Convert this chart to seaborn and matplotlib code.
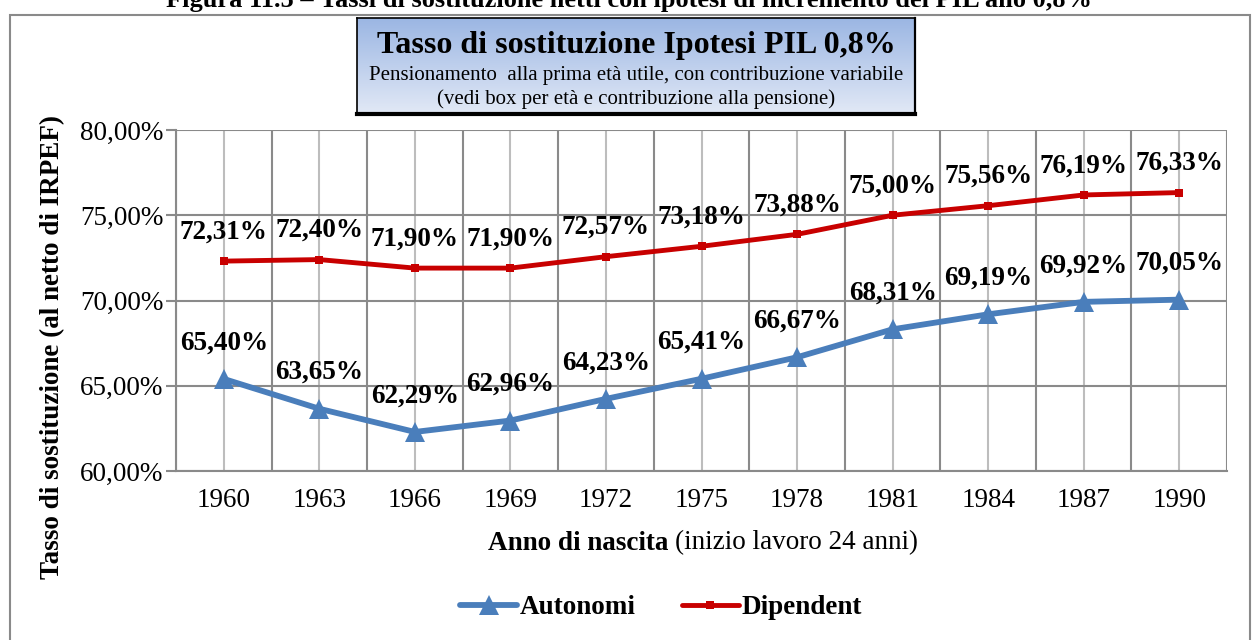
import numpy as np
import pandas as pd
import seaborn as sns
import matplotlib.pyplot as plt
from matplotlib.patches import Rectangle
from matplotlib.ticker import FuncFormatter, FixedLocator
from matplotlib.colors import LinearSegmentedColormap

# data
anni = [1960, 1963, 1966, 1969, 1972, 1975, 1978, 1981, 1984, 1987, 1990]
autonomi = [65.40, 63.65, 62.29, 62.96, 64.23, 65.41, 66.67, 68.31, 69.19, 69.92, 70.05]
dipendenti = [72.31, 72.40, 71.90, 71.90, 72.57, 73.18, 73.88, 75.00, 75.56, 76.19, 76.33]
y_ticks = [60, 65, 70, 75, 80]

sns.set_theme(style="white")
plt.rcParams['font.family'] = ['Liberation Serif', 'DejaVu Serif']
plt.rcParams.update({"text.color": "black", "axes.labelcolor": "black",
                     "xtick.color": "black", "ytick.color": "black"})

df = pd.DataFrame({"Anno": anni + anni,
                   "Tasso": autonomi + dipendenti,
                   "Serie": ["Autonomi"] * len(anni) + ["Dipendent"] * len(anni)})

fig = plt.figure(figsize=(12.58, 6.4), dpi=100)
ax = fig.add_axes([176 / 1258, 1 - 471 / 640, (1227 - 176) / 1258, (471 - 130) / 640])

blu, rosso = "#4a7ebb", "#c80000"
sns.lineplot(data=df[df.Serie == "Autonomi"], x="Anno", y="Tasso", ax=ax, color=blu,
             lw=4.2, marker="^", markersize=15, markeredgewidth=0, label="Autonomi", zorder=4)
sns.lineplot(data=df[df.Serie == "Dipendent"], x="Anno", y="Tasso", ax=ax, color=rosso,
             lw=3.5, marker="s", markersize=6, markeredgewidth=0, label="Dipendent", zorder=4)

ax.set_xlim(1958.5, 1991.5)
ax.set_ylim(60, 80)
ax.set_xticks(anni)
ax.set_xticklabels([str(a) for a in anni])
ax.xaxis.set_minor_locator(FixedLocator([a - 1.5 for a in anni] + [1991.5]))
ax.set_yticks(y_ticks)
ax.yaxis.set_major_formatter(FuncFormatter(lambda v, p: f"{v:.2f}".replace(".", ",") + "%"))

ax.grid(True, which="major", axis="x", color="#bdbdbd", lw=1.5)
ax.grid(True, which="minor", axis="x", color="#8a8a8a", lw=1.5)
ax.grid(True, which="major", axis="y", color="#8a8a8a", lw=1.5)
ax.set_axisbelow(True)
for s in ["top", "right"]:
    ax.spines[s].set_visible(False)
for s in ["left", "bottom"]:
    ax.spines[s].set_color("#8a8a8a")
    ax.spines[s].set_linewidth(1.5)

ax.tick_params(axis="x", which="major", length=0, labelsize=19.5, pad=12)
ax.tick_params(axis="x", which="minor", length=7, width=1.5, color="#8a8a8a", direction="out")
ax.tick_params(axis="y", which="major", length=7, width=1.5, color="#8a8a8a", labelsize=19.5,
               pad=2, left=True)

ax.set_ylabel("")
ax.set_xlabel("")
fig.text(53 / 1258, 1 - 347 / 640, "Tasso di sostituzione (al netto di IRPEF)", fontsize=19.5,
         fontweight="bold", rotation=90, ha="center", va="center")

# data labels
for a, v in zip(anni, autonomi):
    ax.annotate(f"{v:.2f}".replace(".", ",") + "%", (a, v), xytext=(0, 26), textcoords="offset points",
                ha="center", va="center", fontsize=19.5, fontweight="bold", zorder=5)
for a, v in zip(anni, dipendenti):
    ax.annotate(f"{v:.2f}".replace(".", ",") + "%", (a, v), xytext=(0, 21), textcoords="offset points",
                ha="center", va="center", fontsize=19.5, fontweight="bold", zorder=5)

# x axis label, bold + normal part
fig.text(668 / 1258, 1 - 543 / 640, "Anno di nascita", fontsize=19.5, fontweight="bold",
         ha="right", va="center")
fig.text(675 / 1258, 1 - 543 / 640, "(inizio lavoro 24 anni)", fontsize=19.5, ha="left", va="center")

leg = ax.legend(loc="center", bbox_to_anchor=((661 - 176) / 1051, (471 - 608) / (471 - 130)), ncol=2,
                frameon=False, prop={"size": 19.5, "weight": "bold"}, handlelength=2.1,
                columnspacing=1.7, handletextpad=0.1)

# outer chart frame
fig.patches.append(Rectangle((10 / 1258, -0.05), 1240 / 1258, 1 - 15 / 640 + 0.05,
                             transform=fig.transFigure, fill=False, ec="#8a8a8a", lw=1.5))

# caption cut at the top edge
fig.text(0.5, 1.0, "Figura 11.5 – Tassi di sostituzione netti con ipotesi di incremento del PIL allo 0,8%",
         fontsize=19, fontweight="bold", ha="center", va="center")

# title box with gradient
bx = fig.add_axes([357 / 1258, 1 - 114 / 640, (915 - 357) / 1258, (114 - 18) / 640])
grad = np.linspace(0, 1, 256).reshape(-1, 1)
cmap = LinearSegmentedColormap.from_list("box", ["#9bb6e3", "#e2e9f6"])
bx.imshow(grad, aspect="auto", cmap=cmap, extent=[0, 1, 0, 1], origin="upper")
bx.set_xticks([])
bx.set_yticks([])
for s in bx.spines.values():
    s.set_color("black")
    s.set_linewidth(1.2)
bx.spines["bottom"].set_linewidth(3)
bx.spines["right"].set_linewidth(1.6)
bx.text(0.5, 0.71, "Tasso di sostituzione Ipotesi PIL 0,8%", fontsize=23, fontweight="bold",
        ha="center", va="center", transform=bx.transAxes)
bx.text(0.5, 0.40, "Pensionamento  alla prima età utile, con contribuzione variabile", fontsize=15,
        ha="center", va="center", transform=bx.transAxes)
bx.text(0.5, 0.16, "(vedi box per età e contribuzione alla pensione)", fontsize=15,
        ha="center", va="center", transform=bx.transAxes)

fig.savefig("out.png", dpi=100)
